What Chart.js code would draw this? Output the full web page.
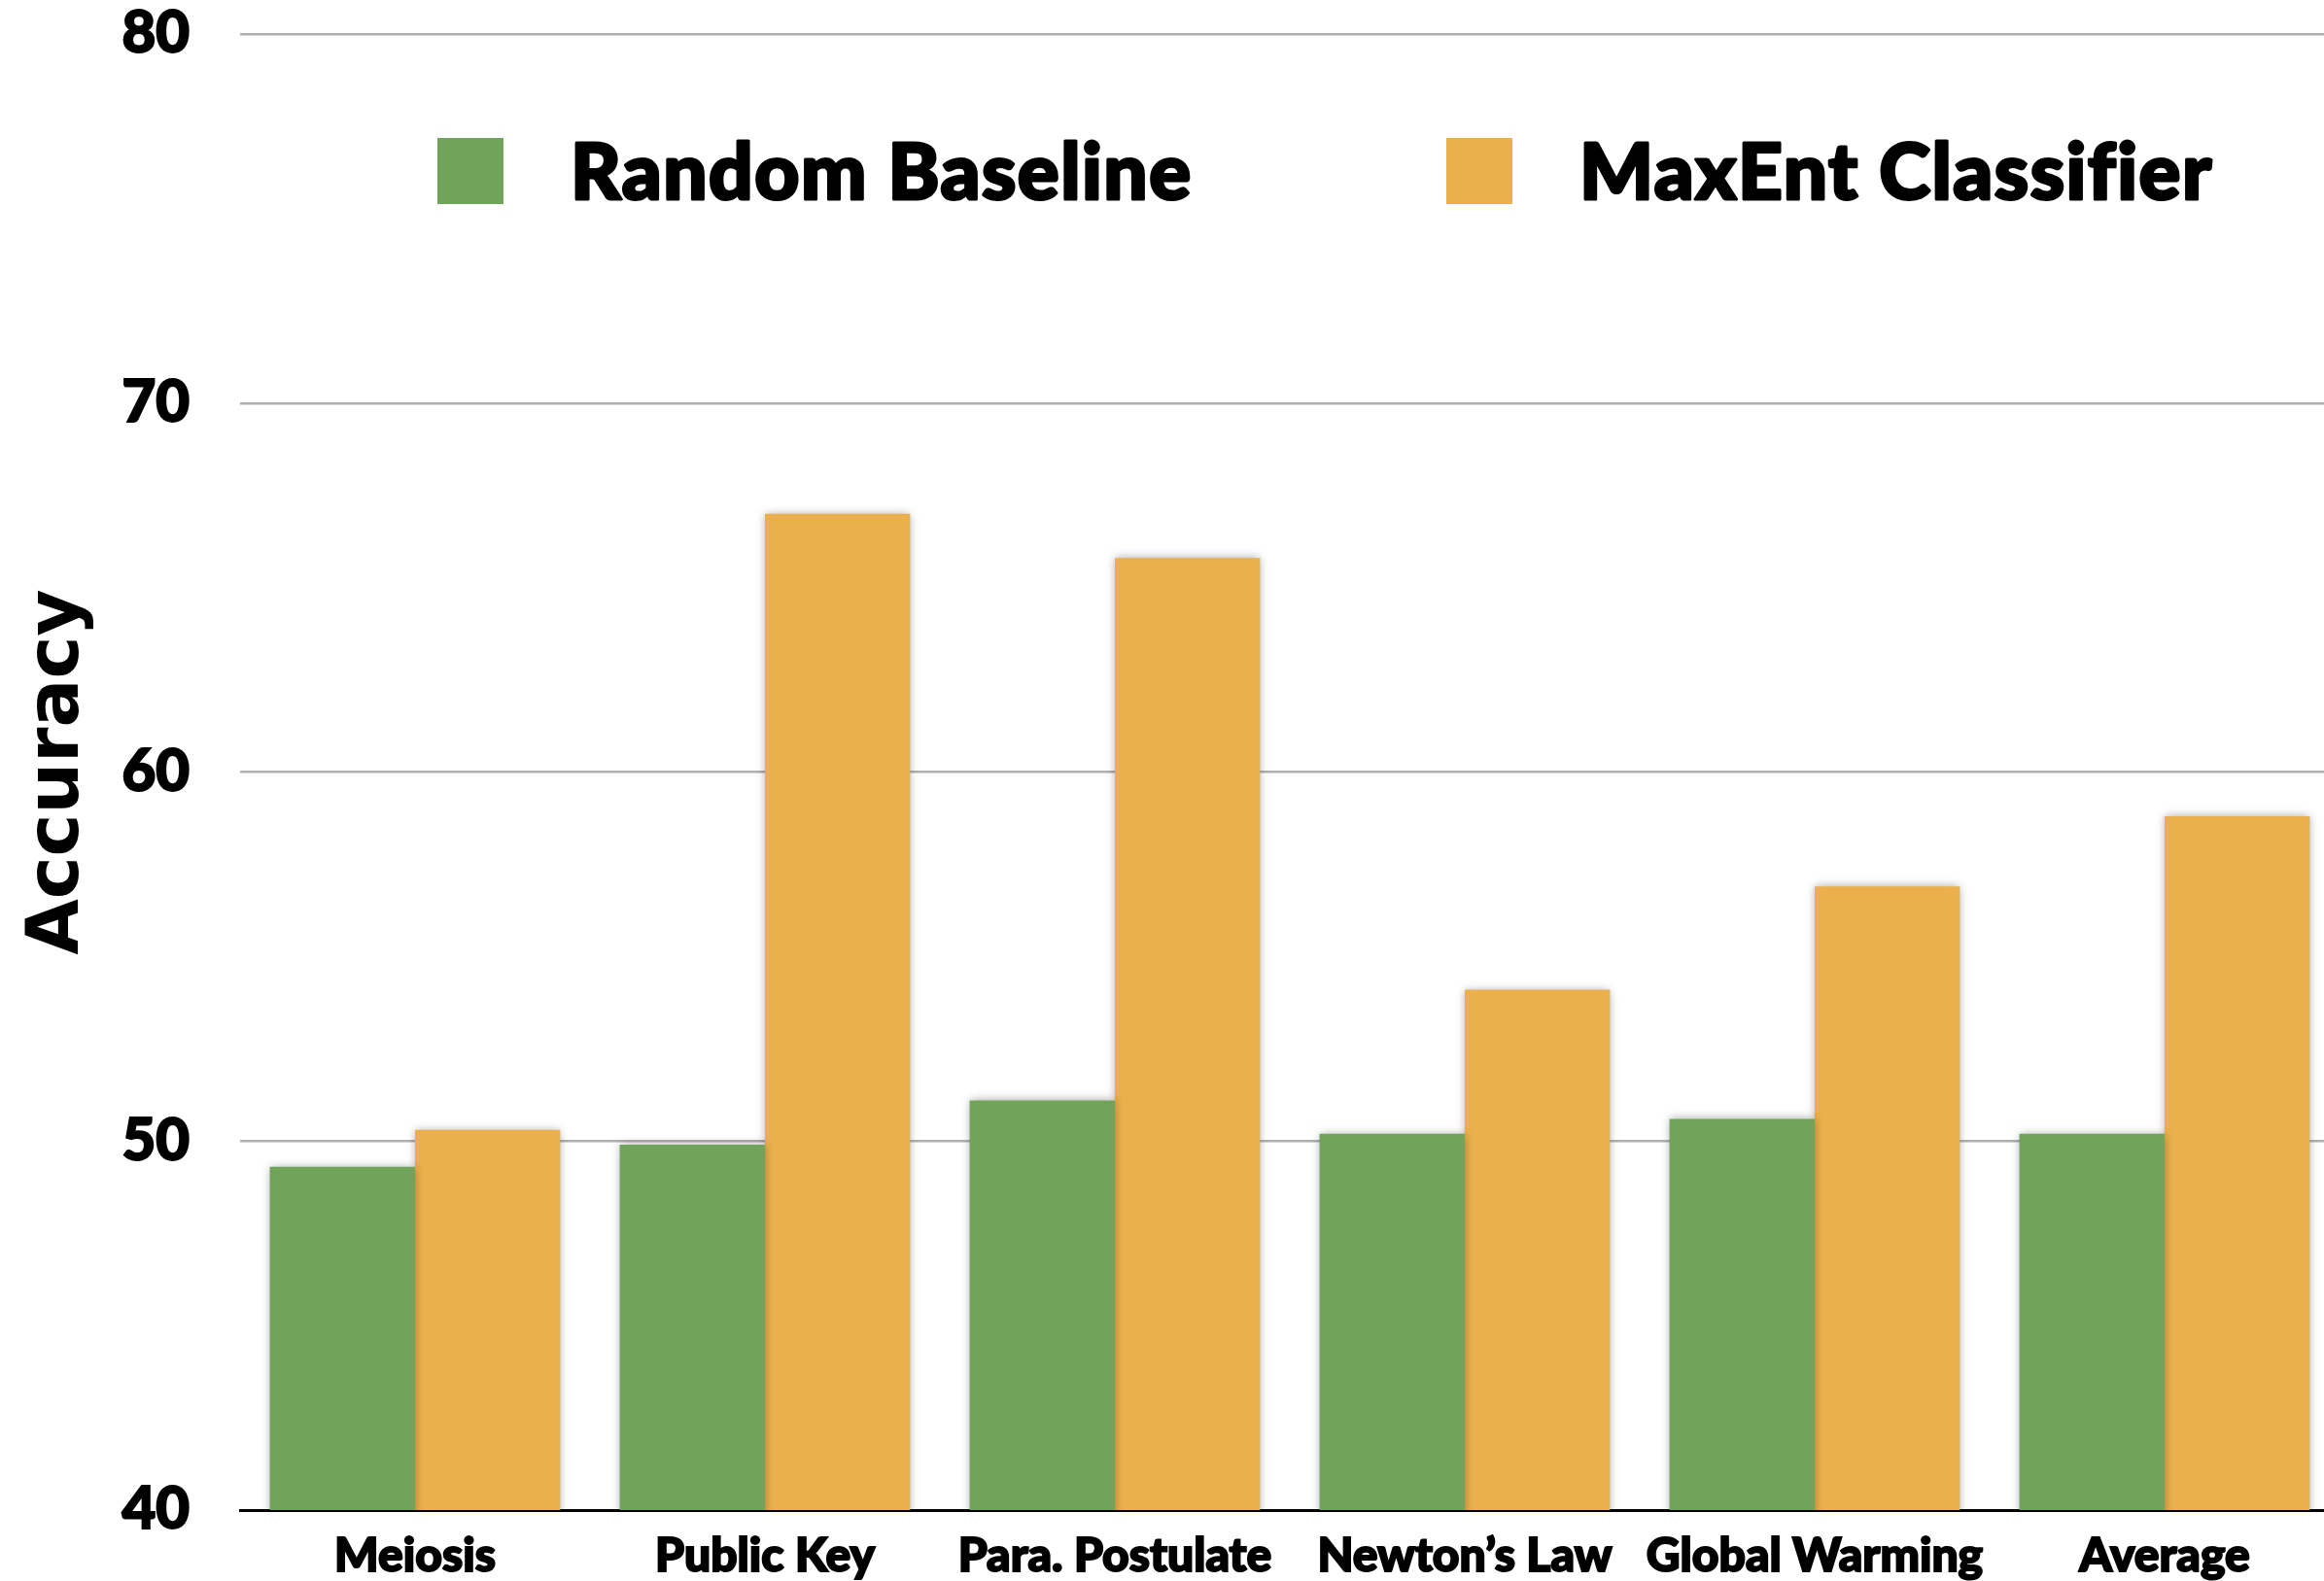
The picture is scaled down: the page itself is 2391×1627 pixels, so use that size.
<!DOCTYPE html>
<html><head><meta charset="utf-8">
<script src="https://cdn.jsdelivr.net/npm/chart.js@4"></script>
<style>
html,body{margin:0;padding:0;background:#fff;overflow:hidden;width:2391px;height:1627px}
#wrap{position:absolute;left:0;top:0;width:2407px;height:1627px}
canvas{display:block}
</style>
</head><body><div id="wrap"><canvas id="c" width="2407" height="1627" style="width:2407px;height:1627px"></canvas></div>
<script>
const categories = ['Meiosis', 'Public Key', 'Para. Postulate', 'Newton\u2019s Law', 'Global Warming', 'Average'];
const seriesNames = ['Random Baseline', 'MaxEnt Classifier'];
const randomBaseline = [49.3, 49.9, 51.1, 50.2, 50.6, 50.2];
const maxentClassifier = [50.3, 67.0, 65.8, 54.1, 56.9, 58.8];
const yTicks = [40, 50, 60, 70, 80];
const yTitle = 'Accuracy';

const GREEN = '#6fa45a';
const ORANGE = '#ebaf4c';
const GILL = '"Lato Black", "Lato Heavy", Lato, "Open Sans", sans-serif';

const shadowPlugin = {
  id: 'barShadow',
  beforeDatasetsDraw(chart) {
    const ctx = chart.ctx;
    ctx.save();
    ctx.shadowColor = 'rgba(0,0,0,0.35)';
    ctx.shadowBlur = 9;
    ctx.shadowOffsetX = 0;
    ctx.shadowOffsetY = 0;
  },
  afterDatasetsDraw(chart) {
    chart.ctx.restore();
  }
};

const legendPlugin = {
  id: 'customLegend',
  afterDraw(chart, args, opts) {
    const ctx = chart.ctx;
    ctx.save();
    chart.data.datasets.forEach((ds, i) => {
      const x = opts.xs[i];
      ctx.fillStyle = ds.backgroundColor;
      ctx.fillRect(x, opts.top, opts.box, opts.box);
      ctx.fillStyle = '#000';
      ctx.strokeStyle = '#000';
      ctx.lineWidth = opts.stroke;
      ctx.lineJoin = 'round';
      ctx.font = opts.font;
      if ('letterSpacing' in ctx) ctx.letterSpacing = opts.spacing;
      ctx.textBaseline = 'middle';
      ctx.textAlign = 'left';
      const tx = x + opts.textOffset, ty = opts.top + opts.box / 2 + 3;
      ctx.strokeText(ds.label, tx, ty);
      ctx.fillText(ds.label, tx, ty);
    });
    ctx.restore();
  }
};

new Chart(document.getElementById('c'), {
  type: 'bar',
  data: {
    labels: categories,
    datasets: [
      { label: seriesNames[0], data: randomBaseline, backgroundColor: GREEN, borderWidth: 0 },
      { label: seriesNames[1], data: maxentClassifier, backgroundColor: ORANGE, borderWidth: 0 }
    ]
  },
  options: {
    responsive: false,
    animation: false,
    devicePixelRatio: 1,
    layout: { padding: { top: 35, left: 0, right: 0, bottom: 0 } },
    datasets: { bar: { categoryPercentage: 0.83, barPercentage: 1.0 } },
    plugins: {
      legend: { display: false },
      tooltip: { enabled: false },
      customLegend: {
        xs: [450, 1488], top: 142, box: 68, textOffset: 137,
        font: '900 80px ' + GILL, spacing: '1.5px', stroke: 3
      }
    },
    scales: {
      x: {
        grid: { display: false, drawTicks: false },
        border: { display: true, color: '#000', width: 3 },
        ticks: { color: '#000', padding: 19, maxRotation: 0, autoSkip: false,
                 textStrokeColor: '#000', textStrokeWidth: 2,
                 font: { family: GILL, size: 48, weight: '900' } },
        afterFit(scale) {
          scale.height = 73;
          scale.paddingLeft = 0; scale.paddingRight = 0;
          scale.paddingTop = 0; scale.paddingBottom = 0;
        }
      },
      y: {
        min: 40, max: 80,
        afterBuildTicks(scale) { scale.ticks = yTicks.map(v => ({ value: v })); },
        grid: { color: '#b0b0b0', lineWidth: 2.5, drawTicks: false },
        border: { display: false },
        ticks: { color: '#000', padding: 52,
                 textStrokeColor: '#000', textStrokeWidth: 2,
                 font: { family: GILL, size: 60, weight: '900' } },
        title: { display: true, text: yTitle, color: '#000', padding: { top: 16, bottom: 0 },
                 font: { family: '"DejaVu Sans", sans-serif', size: 74, weight: 'bold' } },
        afterFit(scale) {
          scale.width = 247;
          scale.paddingTop = 0; scale.paddingBottom = 0;
          scale.paddingLeft = 0; scale.paddingRight = 0;
        }
      }
    }
  },
  plugins: [shadowPlugin, legendPlugin]
});
</script>
</body></html>
